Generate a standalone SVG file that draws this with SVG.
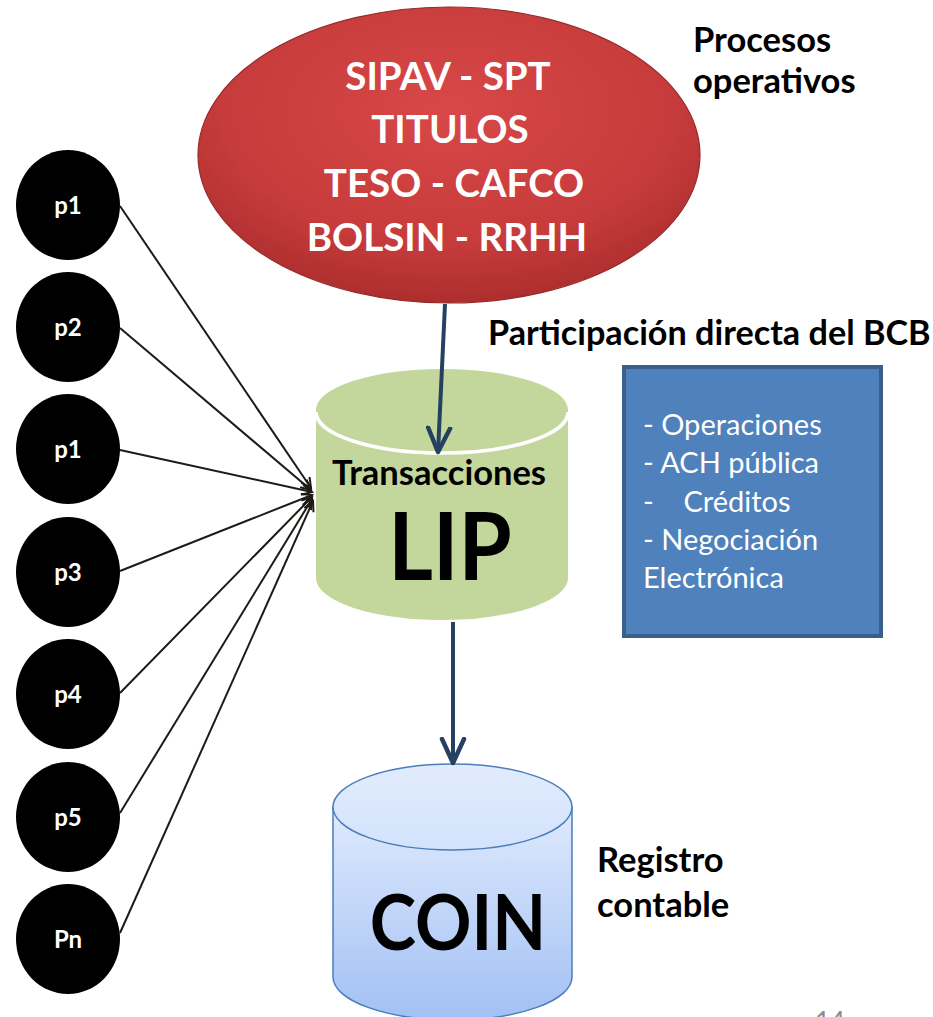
<svg xmlns="http://www.w3.org/2000/svg" width="933" height="1017" viewBox="0 0 933 1017">
<style>
.lbl{font-family:Lato,"Open Sans","Liberation Sans",sans-serif;font-weight:bold;fill:#000}
.wht{font-family:Lato,"Open Sans","Liberation Sans",sans-serif;font-weight:bold;fill:#fff}
.box{font-family:Lato,"Open Sans","Liberation Sans",sans-serif;font-weight:normal;fill:#fff;font-size:29px}
.pc{fill:#000}
.thin{stroke:#1d1b16;stroke-width:2;fill:none;marker-end:url(#ah)}
.thick{stroke:#254061;stroke-width:4;fill:none;marker-end:url(#ahb)}
</style>
<defs>
<radialGradient id="red" cx="0.5" cy="0.35" r="0.65">
<stop offset="0" stop-color="#d84848"/>
<stop offset="0.7" stop-color="#c63b3b"/>
<stop offset="1" stop-color="#ad2e2e"/>
</radialGradient>
<linearGradient id="blu" x1="0" y1="0" x2="0" y2="1">
<stop offset="0" stop-color="#dfeafd"/>
<stop offset="1" stop-color="#a2c0f4"/>
</linearGradient>
<linearGradient id="blutop" x1="0" y1="0" x2="0" y2="1">
<stop offset="0" stop-color="#e1ecfd"/>
<stop offset="1" stop-color="#d3e3fc"/>
</linearGradient>
<marker id="ah" markerWidth="14" markerHeight="14" refX="11" refY="6" orient="auto" markerUnits="userSpaceOnUse">
<path d="M1,1 L11,6 L1,11" fill="none" stroke="#1d1b16" stroke-width="2"/>
</marker>
<marker id="ahb" markerWidth="34" markerHeight="34" refX="26" refY="14" orient="auto" markerUnits="userSpaceOnUse">
<path d="M2,3 L26,14 L2,25" fill="none" stroke="#254061" stroke-width="4.5" stroke-linecap="round" stroke-linejoin="round"/>
</marker>
</defs>

<g id="procesos">
<ellipse cx="449" cy="155" rx="251" ry="148" fill="url(#red)" stroke="#962a2a" stroke-width="1.2"/>
<text class="wht" font-size="38.5" text-anchor="middle" x="448" y="90">SIPAV - SPT</text>
<text class="wht" font-size="38.5" text-anchor="middle" x="450" y="143">TITULOS</text>
<text class="wht" font-size="38.5" text-anchor="middle" x="454" y="197">TESO - CAFCO</text>
<text class="wht" font-size="38.5" text-anchor="middle" x="447" y="251">BOLSIN - RRHH</text>
</g>
<g id="procesos-label">
<text class="lbl" font-size="34.5" x="693" y="52">Procesos</text>
<text class="lbl" font-size="34.5" x="693" y="93">operativos</text>
</g>
<g id="participacion-label">
<text class="lbl" font-size="34.2" x="488" y="345">Participación directa del BCB</text>
</g>
<g id="bcb-box">
<rect x="624" y="367" width="257" height="269" fill="#4f81bd" stroke="#3a5f8b" stroke-width="4"/>
<text class="box" x="643" y="435">- Operaciones</text>
<text class="box" x="643" y="473">- ACH pública</text>
<text class="box" x="643" y="512" xml:space="preserve">-    Créditos</text>
<text class="box" x="643" y="550">- Negociación</text>
<text class="box" x="643" y="588">Electrónica</text>
</g>
<g id="lip">
<path d="M316,410 L316,578 A126,42 0 0 0 568,578 L568,410 Z" fill="#c3d69b"/>
<ellipse cx="442" cy="410" rx="126" ry="41" fill="#c3d69b"/>
<path d="M316,412 A126,41 0 0 0 568,412" fill="none" stroke="#fff" stroke-width="3.5"/>
<text class="lbl" font-size="34.5" text-anchor="middle" x="439" y="485">Transacciones</text>
<text class="lbl" font-size="86" text-anchor="middle" transform="translate(450,580) scale(1,1.1)" x="0" y="0">LIP</text>
</g>
<g id="coin">
<path d="M333,807 L333,977 A119.5,43 0 0 0 572,977 L572,807 Z" fill="url(#blu)" stroke="#4a7ebb" stroke-width="1.5"/>
<ellipse cx="452.5" cy="807" rx="119.5" ry="43" fill="url(#blutop)" stroke="#4a7ebb" stroke-width="1.5"/>
<text class="lbl" font-size="70" text-anchor="middle" transform="translate(458,950) scale(1,1.1)" x="0" y="0">COIN</text>
</g>
<g id="registro-label">
<text class="lbl" font-size="34.5" x="597" y="872">Registro</text>
<text class="lbl" font-size="34.5" x="597" y="917">contable</text>
</g>
<g id="participants">
<g id="n-p1"><ellipse class="pc" cx="68" cy="205" rx="52" ry="55"/><text class="wht" font-size="24" text-anchor="middle" x="68" y="214">p1</text></g>
<g id="n-p2"><ellipse class="pc" cx="68" cy="327" rx="52" ry="55"/><text class="wht" font-size="24" text-anchor="middle" x="68" y="336">p2</text></g>
<g id="n-p1b"><ellipse class="pc" cx="68" cy="449" rx="52" ry="55"/><text class="wht" font-size="24" text-anchor="middle" x="68" y="458">p1</text></g>
<g id="n-p3"><ellipse class="pc" cx="68" cy="572" rx="52" ry="55"/><text class="wht" font-size="24" text-anchor="middle" x="68" y="581">p3</text></g>
<g id="n-p4"><ellipse class="pc" cx="68" cy="694" rx="52" ry="55"/><text class="wht" font-size="24" text-anchor="middle" x="68" y="703">p4</text></g>
<g id="n-p5"><ellipse class="pc" cx="68" cy="817" rx="52" ry="55"/><text class="wht" font-size="24" text-anchor="middle" x="68" y="826">p5</text></g>
<g id="n-pn"><ellipse class="pc" cx="68" cy="939" rx="52" ry="55"/><text class="wht" font-size="24" text-anchor="middle" x="68" y="948">Pn</text></g>
</g>
<g id="connectors">
<line class="thin" x1="120" y1="206" x2="311" y2="488"/>
<line class="thin" x1="120" y1="328" x2="311" y2="490"/>
<line class="thin" x1="120" y1="450" x2="312" y2="492"/>
<line class="thin" x1="120" y1="571" x2="312" y2="495"/>
<line class="thin" x1="120" y1="693" x2="312" y2="497"/>
<line class="thin" x1="120" y1="813" x2="312" y2="499"/>
<line class="thin" x1="120" y1="933" x2="313" y2="501"/>
<line class="thick" x1="445" y1="304" x2="438" y2="452"/>
<line class="thick" x1="453" y1="622" x2="453" y2="763"/>
</g>
<text x="815" y="1031" font-family="Lato,'Open Sans',sans-serif" font-size="26" fill="#8c8c8c">14</text>
</svg>
